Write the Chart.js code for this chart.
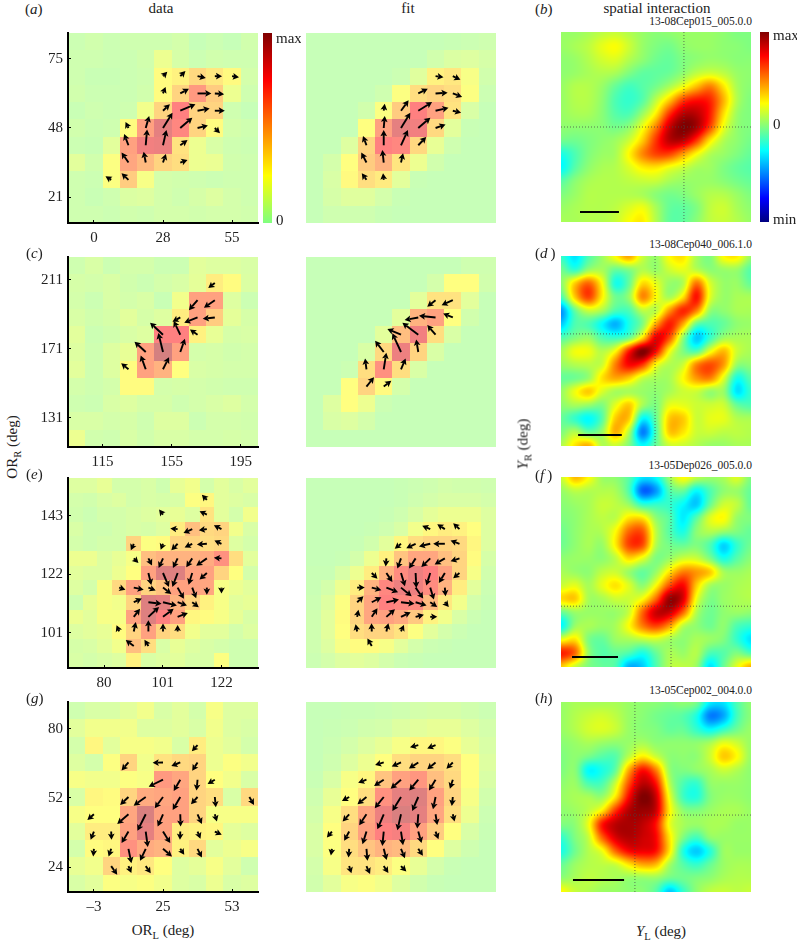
<!DOCTYPE html>
<html>
<head>
<meta charset="utf-8">
<title>data, fit, spatial interaction</title>
<script src="https://cdn.jsdelivr.net/npm/chart.js@4"></script>
<style>
    html, body { margin: 0; padding: 0; background: #fff; }
    #page { position: relative; width: 797px; height: 943px; overflow: hidden; font-family: "Liberation Serif", serif; color: #222; }
    #page canvas { position: absolute; filter: blur(.4px); }
    .txt { position: absolute; white-space: nowrap; line-height: 1; }
    .txt sub { font-size: 70%; line-height: 0; }
</style>
</head>
<body>
<div id="page"></div>
<script>
// ---- axis ranges (deg) and tick labels, one per row of the figure
const rangeXA = [-10.3, 65.3], rangeYA = [10.9, 85.1];
const rangeXC = [95, 205], rangeYC = [114.2, 224.2];
const rangeXE = [67.1, 135.1], rangeYE = [88.4, 156.6];
const rangeXG = [-13.5, 63.5], rangeYG = [13.9, 90.9];
const ticksXA = [0, 27.5, 55], ticksYA = [21, 48, 75];
const ticksXC = [115, 155, 195], ticksYC = [131, 171, 211];
const ticksXE = [80, 101, 122], ticksYE = [101, 122, 143];
const ticksXG = [-3, 25, 53], ticksYG = [24, 52, 80];
const tickNamesXA = ['0', '28', '55'], tickNamesYA = ['21', '48', '75'];
const tickNamesXC = ['115', '155', '195'], tickNamesYC = ['131', '171', '211'];
const tickNamesXE = ['80', '101', '122'], tickNamesYE = ['101', '122', '143'];
const tickNamesXG = ['–3', '25', '53'], tickNamesYG = ['24', '52', '80'];

// ---- response maps, top row first, 0 = bottom of colour bar, 100 = max
const dataCellsA = [
    [5,7,5,6,6,6,8,3,5,3,7],
    [6,6,5,5,7,18,9,5,7,6,6],
    [6,4,4,5,6,26,30,40,34,27,8],
    [7,5,5,5,7,26,42,65,45,18,6],
    [4,6,5,6,20,42,75,42,42,6,3],
    [7,5,6,26,62,85,72,42,26,8,6],
    [5,4,14,62,80,82,36,18,10,6,5],
    [14,7,24,60,52,42,38,18,17,7,6],
    [6,5,24,45,22,8,7,6,5,6,6],
    [6,4,6,11,12,8,6,9,12,8,6],
    [6,6,5,7,6,8,8,7,8,8,7]
];
const fitCellsA = [
    [3,3,3,3,3,3,3,3,4,5,6],
    [3,3,3,3,3,3,3,7,11,12,9],
    [3,3,3,3,3,5,13,30,34,22,7],
    [3,3,3,3,6,24,38,42,38,24,5],
    [3,3,3,7,24,45,75,62,36,10,3],
    [3,3,3,25,62,85,80,40,14,4,3],
    [3,3,12,42,75,72,40,16,6,3,3],
    [3,8,25,45,55,35,18,7,3,3,3],
    [3,10,27,38,33,14,4,3,3,3,3],
    [3,9,13,13,8,4,3,3,3,3,3],
    [3,6,6,6,4,3,3,3,3,3,3]
];
const dataCellsC = [
    [6,10,5,8,8,5,5,14,12,12,10],
    [9,8,10,7,5,8,10,15,32,26,11],
    [8,5,10,8,10,4,20,62,62,12,5],
    [10,7,9,14,9,12,32,62,45,15,9],
    [14,5,7,10,12,75,75,30,16,9,10],
    [12,6,12,16,62,92,62,8,9,7,8],
    [14,6,12,26,62,55,25,10,9,8,8],
    [8,6,8,26,26,8,9,8,7,6,6],
    [6,5,10,12,9,9,6,8,10,12,8],
    [10,10,8,9,6,12,12,5,8,8,7],
    [18,7,6,10,7,10,10,8,8,9,8]
];
const fitCellsC = [
    [3,3,3,3,3,3,3,3,3,6,6],
    [3,3,3,3,3,3,3,8,25,25,7],
    [3,3,3,3,3,3,14,36,36,14,3],
    [3,3,3,3,3,14,55,62,25,7,3],
    [3,3,3,3,14,50,80,38,10,3,3],
    [3,3,3,10,40,82,42,10,3,3,3],
    [3,3,5,38,68,38,10,3,3,3,3],
    [3,3,25,42,27,8,3,3,3,3,3],
    [3,12,25,18,5,3,3,3,3,3,3],
    [3,10,12,8,3,3,3,3,3,3,3],
    [3,3,3,3,3,3,3,3,3,3,3]
];
const dataCellsE = [
    [12,12,16,8,8,10,6,16,20,8,14,10,14],
    [8,7,10,12,8,10,9,10,24,28,14,12,10],
    [7,5,8,8,10,12,14,16,12,36,14,8,20],
    [10,6,6,8,10,9,12,32,50,40,42,20,10],
    [8,6,8,8,42,24,26,42,42,38,40,12,8],
    [18,18,12,16,22,50,55,55,55,58,68,38,14],
    [14,12,12,18,25,62,88,88,62,62,42,25,8],
    [12,8,22,40,62,42,48,62,62,60,22,18,14],
    [6,16,22,20,42,88,85,55,42,30,22,14,16],
    [18,14,22,22,62,88,75,62,28,26,22,16,10],
    [12,14,16,26,42,62,42,38,20,14,14,8,12],
    [9,10,14,20,50,38,10,16,12,10,8,6,6],
    [10,8,10,12,30,10,12,14,10,10,24,6,6]
];
const fitCellsE = [
    [3,3,3,3,3,3,4,5,6,8,7,7,6],
    [3,3,3,3,3,3,4,6,8,10,10,10,8],
    [3,3,3,3,3,4,6,10,15,18,18,18,12],
    [3,3,3,3,4,6,10,20,28,32,30,25,12],
    [3,3,3,4,7,14,28,38,42,42,40,28,12],
    [3,3,4,8,18,30,48,60,60,50,42,26,9],
    [4,4,10,18,32,55,70,82,75,62,42,22,7],
    [4,8,18,32,55,72,82,82,70,55,32,14,5],
    [5,12,24,42,60,75,72,70,52,34,20,8,4],
    [6,14,26,42,60,62,58,46,30,20,10,5,3],
    [6,14,25,38,42,42,36,24,14,8,5,3,3],
    [6,12,22,26,26,22,14,8,5,4,3,3,3],
    [5,8,12,14,12,8,5,4,3,3,3,3,3]
];
const dataCellsG = [
    [6,10,10,14,20,10,14,8,22,12,12],
    [14,20,20,20,12,12,14,10,20,12,10],
    [8,28,14,22,22,20,10,32,18,14,8],
    [12,8,24,42,20,36,40,42,18,24,20],
    [22,20,20,24,22,65,60,42,25,20,10],
    [10,28,26,42,58,60,62,42,38,10,40],
    [22,25,25,60,90,62,62,42,22,22,22],
    [14,32,32,62,85,62,32,30,28,15,12],
    [8,26,28,68,58,55,30,40,14,18,22],
    [16,20,42,30,34,25,12,15,22,14,6],
    [10,14,24,22,24,20,12,10,18,10,12]
];
const fitCellsG = [
    [3,3,4,4,5,6,8,9,9,7,5],
    [3,4,5,7,8,12,14,16,16,12,8],
    [3,5,8,12,16,22,28,28,24,16,10],
    [3,6,12,18,25,38,42,42,38,25,12],
    [4,10,22,28,48,62,66,50,40,25,10],
    [6,16,25,38,68,85,88,62,42,22,7],
    [8,22,38,60,82,90,85,60,38,18,5],
    [10,25,42,62,75,78,62,45,25,10,4],
    [10,24,38,48,55,52,40,25,12,6,3],
    [8,22,35,36,32,24,16,8,4,3,3],
    [7,14,22,24,20,12,7,4,3,3,3]
];

// ---- arrows: [column, row from top, u, v], tail on the cell centre, u/v in cells, v up
const dataArrowsA = [
    [5,2,.25,.25],[6,2,.3,.3],[7,2,.48,-.1],[8,2,.42,0],[9,2,.4,-.06],
    [5,3,.15,.38],[6,3,.5,.27],[7,3,.8,0],[8,3,.54,-.04],
    [5,4,.4,.38],[6,4,.88,.37],[7,4,.7,.13],[8,4,.58,0],
    [3,5,-.17,.35],[4,5,.2,.7],[5,5,.55,.88],[6,5,.7,.6],[7,5,.6,.15],[8,5,.3,-.3],
    [3,6,-.25,.65],[4,6,.08,.92],[5,6,.2,.88],[6,6,.42,.3],
    [3,7,-.4,.58],[4,7,-.12,.63],[5,7,.17,.5],[6,7,.42,.15],
    [2,8,-.33,.2],[3,8,-.4,.38]
];
const fitArrowsA = [
    [7,2,.46,-.06],[8,2,.44,-.2],
    [6,3,.55,.27],[7,3,.7,.04],[8,3,.54,-.2],
    [4,4,.06,.4],[5,4,.44,.6],[6,4,.8,.5],[7,4,.75,.17],[8,4,.48,-.12],
    [4,5,.06,.7],[5,5,.54,.88],[6,5,.7,.6],[7,5,.58,.2],
    [3,6,-.2,.54],[4,6,0,.88],[5,6,.4,.88],[6,6,.46,.48],
    [3,7,-.3,.58],[4,7,-.08,.73],[5,7,.12,.54],
    [3,8,-.27,.38],[4,8,-.04,.38]
];
const dataArrowsC = [
    [8,1,-.38,-.3],
    [7,2,-.5,-.58],[8,2,-.63,-.44],
    [6,3,-.45,-.25],[7,3,-.77,-.3],[8,3,-.7,-.08],
    [5,4,-.75,.7],[6,4,-.38,.8],[7,4,-.44,.3],
    [4,5,-.65,.6],[5,5,-.27,1.1],[6,5,.27,.77],
    [3,6,-.42,.35],[4,6,-.29,.8],[5,6,.35,.7]
];
const fitArrowsC = [
    [7,2,-.48,-.38],[8,2,-.65,-.29],
    [6,3,-.79,-.15],[7,3,-.96,.1],[8,3,-.56,.23],
    [5,4,-.79,.33],[6,4,-.92,.69],[7,4,-.48,.56],
    [4,5,-.5,.65],[5,5,-.5,1.08],[6,5,-.12,.73],
    [3,6,-.08,.63],[4,6,.15,.96],[5,6,.27,.63],
    [3,7,.44,.54],[4,7,.44,.33]
];
const dataArrowsE = [
    [9,1,-.34,.36],
    [6,2,-.27,.34],[9,2,-.5,.23],
    [7,3,-.5,.05],[8,3,-.6,-.27],[9,3,-.55,-.07],[10,3,-.52,.27],
    [4,4,-.2,-.45],[6,4,-.16,-.41],[7,4,-.43,-.45],[8,4,-.52,-.25],[9,4,-.68,-.05],[10,4,-.48,.23],
    [4,5,.32,-.32],[5,5,.25,-.48],[6,5,-.3,-.66],[7,5,-.32,-.66],[8,5,-.41,-.6],[9,5,-.73,-.5],[10,5,-.52,.05],
    [5,6,.2,-.82],[6,6,.41,-.95],[7,6,-.36,-.95],[8,6,-.25,-.8],[9,6,-.5,-.45],
    [3,7,.43,-.14],[4,7,.68,-.14],[5,7,.5,-.2],[6,7,.57,-.43],[7,7,.43,-.77],[8,7,.27,-.73],[9,7,0,-.48],[10,7,0,-.41],
    [4,8,.55,.25],[5,8,.9,-.11],[6,8,.95,-.23],[7,8,.64,-.23],[8,8,.45,-.34],
    [4,9,.43,.55],[5,9,.73,.68],[6,9,.73,.55],[7,9,.7,.27],
    [3,10,-.18,.43],[4,10,.14,.64],[5,10,0,.77],[6,10,0,.55],[7,10,0,.45],
    [4,11,-.55,.41],[5,11,-.27,.43]
];
const fitArrowsE = [
    [8,3,-.55,.23],[9,3,-.52,.34],[10,3,-.43,.41],
    [6,4,-.43,-.34],[7,4,-.64,-.3],[8,4,-.77,-.18],[9,4,-.8,0],[10,4,-.61,.23],
    [5,5,-.05,-.55],[6,5,-.25,-.7],[7,5,-.45,-.7],[8,5,-.61,-.59],[9,5,-.7,-.41],[10,5,-.61,-.2],
    [4,6,.39,-.39],[5,6,.41,-.61],[6,6,.27,-.91],[7,6,.05,-1.02],[8,6,-.27,-.86],[9,6,-.41,-.68],[10,6,-.43,-.36],
    [3,7,.52,0],[4,7,.66,-.18],[5,7,.8,-.32],[6,7,.73,-.59],[7,7,.52,-.75],[8,7,.25,-.82],[9,7,.05,-.59],
    [3,8,.43,.41],[4,8,.66,.34],[5,8,.86,.18],[6,8,.93,-.11],[7,8,.75,-.23],[8,8,.48,-.32],[9,8,.27,-.32],
    [3,9,.09,.48],[4,9,.39,.59],[5,9,.59,.52],[6,9,.66,.32],[7,9,.57,.14],[8,9,.48,0],
    [3,10,-.11,.5],[4,10,-.02,.57],[5,10,.14,.57],[6,10,.2,.45],
    [4,11,-.3,.52]
];
const dataArrowsG = [
    [7,2,-.33,-.35],
    [3,3,-.4,-.46],[5,3,-.6,-.02],[6,3,-.52,-.21],[7,3,-.31,-.48],
    [5,4,-.83,-.4],[6,4,-.38,-.65],[7,4,-.06,-.63],[8,4,-.42,-.25],
    [3,5,-.48,-.46],[4,5,-.7,-.5],[5,5,-.48,-.65],[6,5,-.44,-.75],[7,5,-.38,-.42],[8,5,.06,-.6],[10,5,.27,-.46],
    [1,6,-.38,-.33],[3,6,-.65,-.56],[4,6,-.48,-.96],[5,6,-.31,-.71],[6,6,.02,-.71],[7,6,.25,-.56],[8,6,.12,-.42],
    [1,7,-.19,-.48],[2,7,.02,-.48],[3,7,-.4,-.67],[4,7,.12,-.9],[5,7,.42,-.67],[6,7,-.02,-.48],[7,7,.17,-.42],[8,7,.4,-.19],
    [1,8,-.04,-.44],[2,8,-.15,-.44],[3,8,.17,-.83],[4,8,-.33,-.69],[5,8,.52,-.44],[6,8,.23,-.35],[7,8,.25,-.5],
    [2,9,.35,-.5],[3,9,.17,-.4],[4,9,.29,-.42]
];
const fitArrowsG = [
    [6,2,-.48,-.12],[7,2,-.48,-.19],
    [4,3,-.5,-.15],[5,3,-.54,-.23],[6,3,-.54,-.35],[7,3,-.48,-.4],[8,3,-.37,-.37],
    [3,4,-.48,-.17],[4,4,-.56,-.37],[5,4,-.6,-.52],[6,4,-.52,-.62],[7,4,-.38,-.62],[8,4,-.17,-.52],
    [2,5,-.42,-.23],[3,5,-.52,-.42],[4,5,-.52,-.65],[5,5,-.5,-.81],[6,5,-.35,-.81],[7,5,-.15,-.71],[8,5,-.06,-.52],
    [2,6,-.38,-.42],[3,6,-.42,-.63],[4,6,-.37,-.87],[5,6,-.21,-.92],[6,6,-.06,-.83],[7,6,.1,-.62],[8,6,.1,-.42],
    [1,7,-.29,-.35],[2,7,-.29,-.54],[3,7,-.23,-.73],[4,7,-.08,-.83],[5,7,.12,-.79],[6,7,.19,-.67],[7,7,.17,-.44],
    [1,8,-.06,-.38],[2,8,-.04,-.5],[3,8,.06,-.69],[4,8,.17,-.65],[5,8,.23,-.54],[6,8,.27,-.4],
    [2,9,.13,-.42],[3,9,.21,-.46],[4,9,.27,-.4],[5,9,.31,-.31]
];

// ---- spatial interaction maps sampled edge to edge, top row first, -100 = min, 100 = max
const fieldB = [
    [5,5,8,12,14,10,5,2,3,5,5,5,3,0,0],
    [5,8,12,20,24,15,5,0,-2,3,5,5,3,2,0],
    [3,5,10,16,18,10,3,-3,-5,0,3,5,4,2,2],
    [3,5,8,10,8,0,-6,-6,-4,3,12,16,12,5,3],
    [5,10,10,5,-5,-12,-8,-2,8,22,38,50,30,8,2],
    [5,10,10,3,-10,-15,-8,12,35,62,72,68,40,10,0],
    [5,8,8,2,-8,-10,5,28,65,88,88,70,32,6,0],
    [3,3,3,2,-2,3,22,50,85,100,92,62,22,4,0],
    [-3,-3,0,3,6,15,35,65,88,88,65,30,10,3,-2],
    [-20,-10,0,5,8,26,48,62,62,45,25,10,5,0,-5],
    [-25,-8,3,8,10,18,28,30,22,15,8,6,0,-5,-8],
    [-8,2,8,10,10,12,14,14,8,5,5,5,2,-2,-5],
    [0,5,10,10,10,10,8,2,-2,0,5,10,10,5,0],
    [5,8,10,10,12,18,22,8,-5,-6,0,12,15,8,3],
    [8,8,10,10,14,24,28,10,-6,-6,2,12,14,10,5]
];
const fieldD = [
    [-15,-30,-10,5,25,42,15,5,25,30,8,0,25,28,5],
    [-3,-15,5,8,-5,0,10,5,15,20,12,3,5,5,-8],
    [3,35,55,25,-20,-5,32,20,5,10,52,18,5,5,-5],
    [-10,35,62,28,-3,5,48,25,8,30,72,20,5,8,8],
    [-45,-5,15,8,-10,-10,12,12,45,68,50,5,3,8,8],
    [-35,-10,-10,-25,-40,-20,0,42,70,42,-5,-10,-5,3,5],
    [-10,0,5,-10,-15,-5,30,78,60,5,-35,-15,5,8,8],
    [8,22,22,10,25,70,100,75,25,0,-10,20,38,15,8],
    [5,10,12,15,50,75,65,25,10,15,48,60,45,5,3],
    [-5,-3,5,30,42,35,15,8,8,25,45,50,20,-20,-8],
    [5,22,35,18,8,8,5,3,8,15,15,5,5,-30,-15],
    [3,8,5,0,20,35,8,0,20,20,15,15,15,-5,-10],
    [-5,-15,-25,-8,35,35,-25,-5,35,35,15,20,20,10,8],
    [0,10,-5,5,40,10,-50,-10,35,30,15,15,12,12,10],
    [10,30,40,10,15,0,-25,-5,15,15,10,5,5,8,8]
];
const fieldF = [
    [15,38,25,6,3,-8,-30,-25,5,25,12,5,8,18,0],
    [5,12,10,10,8,-10,-55,-45,-10,-5,-25,-10,3,5,-5],
    [2,5,8,14,12,5,-15,-15,-15,-25,-35,-5,15,12,-5],
    [0,3,8,12,12,30,30,3,-8,-28,-8,18,25,5,0],
    [-3,3,8,10,25,55,58,12,-8,-20,2,10,5,0,-5],
    [-3,3,8,5,28,62,60,10,-2,-5,0,-10,-33,-15,-3],
    [3,5,5,3,12,32,20,0,5,15,15,0,-20,-8,2],
    [8,5,3,12,15,5,-5,5,30,50,45,35,8,5,8],
    [15,20,8,20,30,18,3,25,60,75,35,8,5,8,10],
    [32,35,8,8,15,15,25,55,95,82,22,0,5,8,10],
    [-5,5,5,5,5,15,55,85,85,55,10,-3,3,5,3],
    [-25,5,8,5,8,25,50,62,45,12,3,-3,3,-10,-15],
    [22,30,0,-5,5,8,12,15,8,3,8,5,0,-15,-30],
    [70,55,5,-8,-5,-10,-20,-5,8,5,10,-10,-8,0,-10],
    [35,15,0,-5,-10,-40,-35,-10,10,12,5,-30,-5,20,40]
];
const fieldH = [
    [5,8,8,8,8,5,3,2,0,3,-2,-28,-30,-10,3],
    [5,10,14,16,12,5,2,-2,-5,-8,-20,-50,-42,-12,2],
    [5,10,16,18,14,5,2,0,-5,-5,-15,-25,-15,-3,5],
    [2,5,8,5,3,5,8,3,3,3,3,8,20,15,5],
    [0,3,-2,-8,-8,12,28,15,3,3,3,15,35,25,5],
    [0,2,-25,-20,-5,42,72,50,5,0,3,8,15,10,3],
    [3,5,-10,-10,15,60,88,72,12,-10,-15,3,5,5,3],
    [5,8,8,5,30,75,100,85,22,-12,-18,0,5,5,3],
    [3,6,12,28,65,90,95,85,28,3,0,5,8,8,5],
    [0,3,22,70,88,92,88,72,22,8,5,8,8,5,5],
    [-15,0,14,55,82,90,85,75,30,0,-12,3,5,5,5],
    [-20,-3,10,22,55,75,78,72,30,-18,-35,-18,5,5,5],
    [-5,5,10,12,15,30,42,38,8,-8,-15,-5,5,8,8],
    [3,8,12,10,8,5,5,5,-3,-3,0,3,8,10,10],
    [25,14,10,6,5,3,2,-8,-35,-15,3,12,14,12,14]
];
// crosshair [x, y] and scale bar [x0, x1, y], panel fractions measured from bottom left
const crossB = [.647, .5], crossD = [.495, .59], crossF = [.579, .32], crossH = [.389, .405];
const barB = [.1, .305, .053], barD = [.09, .32, .058], barF = [.058, .3, .053], barH = [.063, .332, .063];

const colourBarTicksA = [.97, .01], colourBarNamesA = ['max', '0'];
const colourBarTicksB = [.96, .02, -.98], colourBarNamesB = ['max', '0', 'min'];

const page = document.getElementById('page');
const PANEL = 190;
const SERIF = '"Liberation Serif", serif';

Chart.defaults.animation = false;
Chart.defaults.responsive = false;
Chart.defaults.events = [];
Chart.defaults.font.family = SERIF;
Chart.defaults.font.size = 15;
Chart.defaults.color = '#222';
Chart.defaults.plugins.legend.display = false;
Chart.defaults.plugins.tooltip.enabled = false;

function addCanvas(left, top, w, h) {
    const c = document.createElement('canvas');
    c.width = w; c.height = h;
    c.style.left = left + 'px'; c.style.top = top + 'px';
    c.style.width = w + 'px'; c.style.height = h + 'px';
    page.appendChild(c);
    return c;
}

// jet colour map, t from 0 to 1
function jet(t) {
    const f = d => Math.max(0, Math.min(1, 1.5 - Math.abs(4 * t - d)));
    return [f(3) * 255, f(2) * 255, f(1) * 255];
}

// cells use the upper half of jet at half opacity on white
function cellColour(v) {
    const c = jet(.5 + v / 200);
    return `rgb(${c.map(x => Math.round(255 + (x - 255) * .5)).join(',')})`;
}

const cellsPlugin = {
    id: 'cells',
    beforeDatasetsDraw(chart) {
        const ds = chart.data.datasets[0];
        const { x: sx, y: sy } = chart.scales;
        const ctx = chart.ctx;
        ds.data.forEach(p => {
            const x0 = Math.round(sx.getPixelForValue(p.x - ds.stepX / 2));
            const x1 = Math.round(sx.getPixelForValue(p.x + ds.stepX / 2));
            const y0 = Math.round(sy.getPixelForValue(p.y + ds.stepY / 2));
            const y1 = Math.round(sy.getPixelForValue(p.y - ds.stepY / 2));
            ctx.fillStyle = cellColour(p.v);
            ctx.fillRect(x0, y0, x1 - x0, y1 - y0);
        });
    },
    afterDatasetsDraw(chart) {
        const ds = chart.data.datasets[1];
        const { x: sx, y: sy } = chart.scales;
        const ctx = chart.ctx;
        ds.data.forEach(p => {
            const x0 = sx.getPixelForValue(p.x), y0 = sy.getPixelForValue(p.y);
            const x1 = sx.getPixelForValue(p.tipX), y1 = sy.getPixelForValue(p.tipY);
            const a = Math.atan2(y1 - y0, x1 - x0);
            const head = 7;
            const nx = x1 - Math.cos(a) * head * .7, ny = y1 - Math.sin(a) * head * .7;
            ctx.strokeStyle = '#000';
            ctx.lineWidth = 1.9;
            ctx.beginPath();
            ctx.moveTo(x0, y0);
            ctx.lineTo(nx, ny);
            ctx.stroke();
            ctx.fillStyle = '#000';
            ctx.beginPath();
            ctx.moveTo(x1, y1);
            ctx.lineTo(x1 - Math.cos(a - .5) * head, y1 - Math.sin(a - .5) * head);
            ctx.lineTo(nx, ny);
            ctx.lineTo(x1 - Math.cos(a + .5) * head, y1 - Math.sin(a + .5) * head);
            ctx.closePath();
            ctx.fill();
        });
    }
};

// the label padding chart.js adds at the ends of an axis would shrink the plot
function clearPadding(s) {
    s.paddingTop = s.paddingBottom = s.paddingLeft = s.paddingRight = 0;
}

function axis(range, ticks, names, withAxis, horizontal) {
    return {
        type: 'linear',
        min: range[0],
        max: range[1],
        display: withAxis,
        border: { display: true, color: '#000', width: 2, z: 2 },
        grid: { drawOnChartArea: false, color: '#000', tickLength: -3, lineWidth: 1, z: 2 },
        ticks: {
            autoSkip: false,
            maxRotation: 0,
            padding: horizontal ? 9 : 8,
            callback: v => names ? names[ticks.indexOf(v)] : ''
        },
        afterBuildTicks(s) { s.ticks = ticks.map(value => ({ value })); },
        afterFit(s) {
            if (!withAxis) return;
            clearPadding(s);
            if (horizontal) s.height = 26; else s.width = 40;
        }
    };
}

function heatChart(left, top, cells, arrows, rx, ry, tx, ty, nx, ny) {
    const withAxis = !!nx;
    const n = cells.length;
    const stepX = (rx[1] - rx[0]) / n, stepY = (ry[1] - ry[0]) / n;
    const cellX = c => rx[0] + (c + .5) * stepX;
    const cellY = r => ry[1] - (r + .5) * stepY;
    const cellPts = [];
    cells.forEach((row, r) => row.forEach((v, c) => cellPts.push({ x: cellX(c), y: cellY(r), v })));
    const arrowPts = arrows.map(a => ({
        x: cellX(a[0]), y: cellY(a[1]),
        tipX: cellX(a[0]) + a[2] * stepX, tipY: cellY(a[1]) + a[3] * stepY
    }));
    const canvas = withAxis
        ? addCanvas(left - 40, top - 4, PANEL + 42, PANEL + 30)
        : addCanvas(left, top, PANEL, PANEL);
    new Chart(canvas, {
        type: 'scatter',
        data: {
            datasets: [
                { data: cellPts, stepX, stepY, pointRadius: 0 },
                { data: arrowPts, pointRadius: 0 }
            ]
        },
        options: {
            layout: { autoPadding: false, padding: withAxis ? { top: 4, right: 2, left: 0, bottom: 0 } : 0 },
            scales: {
                x: axis(rx, tx, nx, withAxis, true),
                y: axis(ry, ty, ny, withAxis, false)
            }
        },
        plugins: [cellsPlugin]
    });
}

// catmull-rom through the sampled values, then jet
function cubic(a, b, c, d, t) {
    return b + .5 * t * (c - a + t * (2 * a - 5 * b + 4 * c - d + t * (3 * (b - c) + d - a)));
}

const fieldPlugin = {
    id: 'field',
    beforeDatasetsDraw(chart) {
        const grid = chart.data.datasets[0].grid;
        const n = grid.length;
        const { left, top, width, height } = chart.chartArea;
        const w = Math.round(width), h = Math.round(height);
        const off = document.createElement('canvas');
        off.width = w; off.height = h;
        const octx = off.getContext('2d');
        const img = octx.createImageData(w, h);
        const at = (r, c) => grid[Math.max(0, Math.min(n - 1, r))][Math.max(0, Math.min(n - 1, c))];
        for (let py = 0; py < h; py++) {
            const gy = py / (h - 1) * (n - 1), r = Math.min(n - 2, Math.floor(gy)), ty = gy - r;
            for (let px = 0; px < w; px++) {
                const gx = px / (w - 1) * (n - 1), c = Math.min(n - 2, Math.floor(gx)), tx = gx - c;
                const rows = [-1, 0, 1, 2].map(d => cubic(at(r + d, c - 1), at(r + d, c), at(r + d, c + 1), at(r + d, c + 2), tx));
                const v = cubic(rows[0], rows[1], rows[2], rows[3], ty);
                const col = jet((Math.max(-100, Math.min(100, v)) + 100) / 200);
                const i = (py * w + px) * 4;
                img.data[i] = col[0]; img.data[i + 1] = col[1]; img.data[i + 2] = col[2]; img.data[i + 3] = 255;
            }
        }
        octx.putImageData(img, 0, 0);
        chart.ctx.drawImage(off, left, top);
    }
};

function fieldChart(left, top, grid, cross, bar) {
    const n = grid.length;
    const pts = [];
    grid.forEach((row, r) => row.forEach((v, c) => pts.push({ x: c / (n - 1), y: 1 - r / (n - 1), v })));
    new Chart(addCanvas(left, top, PANEL, PANEL), {
        type: 'scatter',
        data: {
            datasets: [
                { data: pts, grid, pointRadius: 0 },
                { data: [{ x: cross[0], y: 0 }, { x: cross[0], y: 1 }], showLine: true, pointRadius: 0, borderColor: 'rgba(70,70,70,.75)', borderWidth: 1, borderDash: [1, 2] },
                { data: [{ x: 0, y: cross[1] }, { x: 1, y: cross[1] }], showLine: true, pointRadius: 0, borderColor: 'rgba(70,70,70,.75)', borderWidth: 1, borderDash: [1, 2] },
                { data: [{ x: bar[0], y: bar[2] }, { x: bar[1], y: bar[2] }], showLine: true, pointRadius: 0, borderColor: '#000', borderWidth: 2 }
            ]
        },
        options: {
            layout: { autoPadding: false, padding: 0 },
            scales: {
                x: { type: 'linear', min: 0, max: 1, display: false },
                y: { type: 'linear', min: 0, max: 1, display: false }
            }
        },
        plugins: [fieldPlugin]
    });
}

function colourBar(left, top, w, lo, hi, ticks, names) {
    new Chart(addCanvas(left, top - 10, w, PANEL + 20), {
        type: 'bar',
        data: {
            labels: [''],
            datasets: [{
                data: [[lo, hi]],
                barPercentage: 1,
                categoryPercentage: 1,
                backgroundColor(ctx) {
                    const area = ctx.chart.chartArea;
                    if (!area) return '#888';
                    const g = ctx.chart.ctx.createLinearGradient(0, area.bottom, 0, area.top);
                    for (let i = 0; i <= 32; i++) {
                        const c = jet(lo === 0 ? .5 + i / 64 : i / 32);
                        g.addColorStop(i / 32, `rgb(${c.map(x => Math.round(x)).join(',')})`);
                    }
                    return g;
                }
            }]
        },
        options: {
            layout: { autoPadding: false, padding: { top: 10, bottom: 10, left: 0, right: 0 } },
            scales: {
                x: { display: false },
                y: {
                    type: 'linear', min: lo, max: hi, position: 'right',
                    border: { display: false },
                    grid: { display: false, drawTicks: false },
                    ticks: { autoSkip: false, padding: 4, callback: v => names[ticks.indexOf(v)] },
                    afterBuildTicks(s) { s.ticks = ticks.map(value => ({ value })); },
                    afterFit(s) { clearPadding(s); s.width = w - 9; }
                }
            }
        }
    });
}

function addText(html, x, y, anchor, size, rotate) {
    const d = document.createElement('div');
    d.className = 'txt';
    d.innerHTML = html;
    d.style.left = x + 'px';
    d.style.top = y + 'px';
    d.style.fontSize = size + 'px';
    const tx = anchor === 'c' ? '-50%' : anchor === 'r' ? '-100%' : '0';
    d.style.transform = `translate(${tx},-50%)` + (rotate ? ' rotate(-90deg)' : '');
    page.appendChild(d);
}

const dataLeft = 68, fitLeft = 306, fieldLeft = 561;
const rowA = 33, rowC = 257, rowE = 478, rowG = 702;

heatChart(dataLeft, rowA, dataCellsA, dataArrowsA, rangeXA, rangeYA, ticksXA, ticksYA, tickNamesXA, tickNamesYA);
heatChart(fitLeft, rowA, fitCellsA, fitArrowsA, rangeXA, rangeYA, ticksXA, ticksYA);
heatChart(dataLeft, rowC, dataCellsC, dataArrowsC, rangeXC, rangeYC, ticksXC, ticksYC, tickNamesXC, tickNamesYC);
heatChart(fitLeft, rowC, fitCellsC, fitArrowsC, rangeXC, rangeYC, ticksXC, ticksYC);
heatChart(dataLeft, rowE, dataCellsE, dataArrowsE, rangeXE, rangeYE, ticksXE, ticksYE, tickNamesXE, tickNamesYE);
heatChart(fitLeft, rowE, fitCellsE, fitArrowsE, rangeXE, rangeYE, ticksXE, ticksYE);
heatChart(dataLeft, rowG, dataCellsG, dataArrowsG, rangeXG, rangeYG, ticksXG, ticksYG, tickNamesXG, tickNamesYG);
heatChart(fitLeft, rowG, fitCellsG, fitArrowsG, rangeXG, rangeYG, ticksXG, ticksYG);

fieldChart(fieldLeft, rowA - 1, fieldB, crossB, barB);
fieldChart(fieldLeft, rowC - 1, fieldD, crossD, barD);
fieldChart(fieldLeft, rowE - 1, fieldF, crossF, barF);
fieldChart(fieldLeft, rowG, fieldH, crossH, barH);

colourBar(263, 33, 38, 0, 1, colourBarTicksA, colourBarNamesA);
colourBar(760, 32, 37, -1, 1, colourBarTicksB, colourBarNamesB);

// headings and labels
addText('data', 161, 8, 'c', 15);
addText('fit', 408, 8, 'c', 15);
addText('spatial interaction', 657, 8, 'c', 15);
addText('13-08Cep015_005.0.0', 752, 22, 'r', 11.5);
addText('13-08Cep040_006.1.0', 752, 245, 'r', 11.5);
addText('13-05Dep026_005.0.0', 752, 466, 'r', 11.5);
addText('13-05Cep002_004.0.0', 752, 691, 'r', 11.5);
addText('(<i>a</i>)', 25, 9, 'l', 15);
addText('(<i>b</i>)', 535, 9, 'l', 15);
addText('(<i>c</i>)', 26, 253, 'l', 15);
addText('(<i>d</i>&thinsp;)', 535, 253, 'l', 15);
addText('(<i>e</i>)', 26, 474, 'l', 15);
addText('(<i>f</i>&thinsp;)', 535, 475, 'l', 15);
addText('(<i>g</i>)', 26, 698, 'l', 15);
addText('(<i>h</i>)', 535, 698, 'l', 15);
addText('OR<sub>R</sub> (deg)', 12, 447, 'c', 15, true);
addText('<i>Y</i><sub>R</sub> (deg)', 523, 444, 'c', 15, true);
addText('OR<sub>L</sub> (deg)', 163, 930, 'c', 15);
addText('<i>Y</i><sub>L</sub> (deg)', 661, 931, 'c', 15);
</script>
</body>
</html>
